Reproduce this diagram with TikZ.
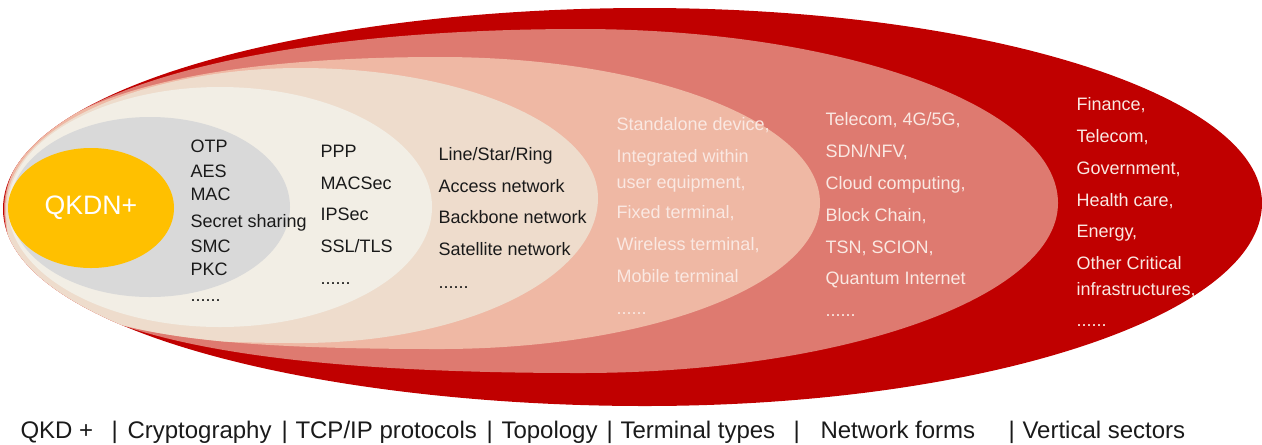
\documentclass[tikz,border=0pt]{standalone}
\usepackage{fontspec}
\setmainfont{Liberation Sans}

\definecolor{ringRed}{RGB}{192,0,0}
\definecolor{ringRose}{RGB}{222,122,112}
\definecolor{ringSalmon}{RGB}{239,184,164}
\definecolor{ringBeige}{RGB}{238,220,204}
\definecolor{ringCream}{RGB}{242,238,229}
\definecolor{ringGray}{RGB}{217,217,217}
\definecolor{coreYellow}{RGB}{255,192,0}
\definecolor{inkDark}{RGB}{26,26,26}
\definecolor{inkPale}{RGB}{250,232,226}

\tikzset{every picture/.style={line width=0.75pt}}
\tikzset{
  darktxt/.style={anchor=base west, inner sep=0pt, text=inkDark, font=\fontsize{13.5}{16}\selectfont},
  paletxt/.style={anchor=base west, inner sep=0pt, text=inkPale, font=\fontsize{13.5}{16}\selectfont},
  captxt/.style={anchor=base west, inner sep=0pt, text=inkDark, font=\fontsize{18}{21}\selectfont},
}

\begin{document}
\begin{tikzpicture}[x=0.75pt,y=0.75pt,yscale=-1,xscale=1]
\path[use as bounding box] (0,0) rectangle (1262,444);

\begin{scope}
%Shape: Ring [vertical sectors]
\fill[ringRed] (3,209) .. controls (3,84) and (324,8) .. (645,8)
  .. controls (986,8) and (1262,95) .. (1262,203)
  .. controls (1262,315) and (986,406) .. (645,406)
  .. controls (324,406) and (3,331) .. (3,209) -- cycle ;
\clip (3,209) .. controls (3,84) and (324,8) .. (645,8)
  .. controls (986,8) and (1262,95) .. (1262,203)
  .. controls (1262,315) and (986,406) .. (645,406)
  .. controls (324,406) and (3,331) .. (3,209) -- cycle ;
%Shape: Ring [network forms]
\fill[ringRose] (4,209) .. controls (4,90) and (263,29) .. (580,29)
  .. controls (844,29) and (1058,107) .. (1058,203)
  .. controls (1058,297) and (844,373) .. (580,373)
  .. controls (234,373) and (4,332) .. (4,209) -- cycle ;
\clip (4,209) .. controls (4,90) and (263,29) .. (580,29)
  .. controls (844,29) and (1058,107) .. (1058,203)
  .. controls (1058,297) and (844,373) .. (580,373)
  .. controls (234,373) and (4,332) .. (4,209) -- cycle ;
%Shape: Ring [terminal types]
\fill[ringSalmon] (5,209) .. controls (5,103) and (179,57) .. (440,57)
  .. controls (650,57) and (820,122) .. (820,203)
  .. controls (820,284) and (650,349) .. (440,349)
  .. controls (157,349) and (5,328) .. (5,209) -- cycle ;
\clip (5,209) .. controls (5,103) and (179,57) .. (440,57)
  .. controls (650,57) and (820,122) .. (820,203)
  .. controls (820,284) and (650,349) .. (440,349)
  .. controls (157,349) and (5,328) .. (5,209) -- cycle ;
%Shape: Ring [topology]
\fill[ringBeige] (6,209) .. controls (6,122) and (153,68) .. (300,68)
  .. controls (465,68) and (598,126) .. (598,198)
  .. controls (598,278) and (465,343) .. (300,343)
  .. controls (109,343) and (6,323) .. (6,209) -- cycle ;
\clip (6,209) .. controls (6,122) and (153,68) .. (300,68)
  .. controls (465,68) and (598,126) .. (598,198)
  .. controls (598,278) and (465,343) .. (300,343)
  .. controls (109,343) and (6,323) .. (6,209) -- cycle ;
%Shape: Ellipse [tcp/ip]
\fill[ringCream] (220,207) ellipse [x radius=212, y radius=120];
\clip (220,207) ellipse [x radius=212, y radius=120];
%Shape: Ellipse [cryptography]
\fill[ringGray] (150,207) ellipse [x radius=140, y radius=90];
%Shape: Ellipse [qkd]
\fill[coreYellow] (91,208) ellipse [x radius=83, y radius=60];
\end{scope}

% Text Node
\node[text=white, font=\fontsize{20}{24}\selectfont] (qkdn) at (91,208) {QKDN+};

% Text Node
\node[darktxt] (otp) at (190,152) {OTP};
\node[darktxt] (aes) at (190,177) {AES};
\node[darktxt] (mac) at (190,200) {MAC};
\node[darktxt] (secret) at (190,227) {Secret sharing};
\node[darktxt] (smc) at (190,252) {SMC};
\node[darktxt] (pkc) at (190,275) {PKC};
\node[darktxt] (cryptodots) at (190,301) {......};

% Text Node
\node[darktxt] (ppp) at (320,157) {PPP};
\node[darktxt] (macsec) at (320,189) {MACSec};
\node[darktxt] (ipsec) at (320,220) {IPSec};
\node[darktxt] (ssltls) at (320,252) {SSL/TLS};
\node[darktxt] (tcpdots) at (320,284) {......};

% Text Node
\node[darktxt] (lsr) at (438,160) {Line/Star/Ring};
\node[darktxt] (access) at (438,192) {Access network};
\node[darktxt] (backbone) at (438,223) {Backbone network};
\node[darktxt] (satellite) at (438,255) {Satellite network};
\node[darktxt] (topodots) at (438,288) {......};

% Text Node
\node[paletxt] (standalone) at (616,130) {Standalone device,};
\node[paletxt] (integrated) at (616,162) {Integrated within};
\node[paletxt] (userequip) at (616,188) {user equipment,};
\node[paletxt] (fixed) at (616,218) {Fixed terminal,};
\node[paletxt] (wireless) at (616,250) {Wireless terminal,};
\node[paletxt] (mobile) at (616,282) {Mobile terminal};
\node[paletxt] (termdots) at (616,314) {......};

% Text Node
\node[paletxt] (telecomg) at (825,125) {Telecom, 4G/5G,};
\node[paletxt] (sdn) at (825,157) {SDN/NFV,};
\node[paletxt] (cloud) at (825,189) {Cloud computing,};
\node[paletxt] (block) at (825,221) {Block Chain,};
\node[paletxt] (tsn) at (825,253) {TSN, SCION,};
\node[paletxt] (quantum) at (825,284) {Quantum Internet};
\node[paletxt] (netdots) at (825,316) {......};

% Text Node
\node[paletxt] (finance) at (1076,110) {Finance,};
\node[paletxt] (telecom) at (1076,142) {Telecom,};
\node[paletxt] (government) at (1076,174) {Government,};
\node[paletxt] (health) at (1076,206) {Health care,};
\node[paletxt] (energy) at (1076,237) {Energy,};
\node[paletxt] (othercrit) at (1076,269) {Other Critical};
\node[paletxt] (infra) at (1076,295) {infrastructures,};
\node[paletxt] (sectdots) at (1076,326) {......};

% Text Node
\node[captxt] (capqkd) at (20,438) {QKD +};
\node[captxt] (bar1) at (111,438) {|};
\node[captxt] (capcrypto) at (127,438) {Cryptography};
\node[captxt] (bar2) at (281,438) {|};
\node[captxt] (captcp) at (295,438) {TCP/IP protocols};
\node[captxt] (bar3) at (486,438) {|};
\node[captxt] (captopo) at (501,438) {Topology};
\node[captxt] (bar4) at (606,438) {|};
\node[captxt] (capterm) at (620,438) {Terminal types};
\node[captxt] (bar5) at (793,438) {|};
\node[captxt] (capnet) at (820,438) {Network forms};
\node[captxt] (bar6) at (1008,438) {|};
\node[captxt] (capvert) at (1022,438) {Vertical sectors};

\end{tikzpicture}
\end{document}
